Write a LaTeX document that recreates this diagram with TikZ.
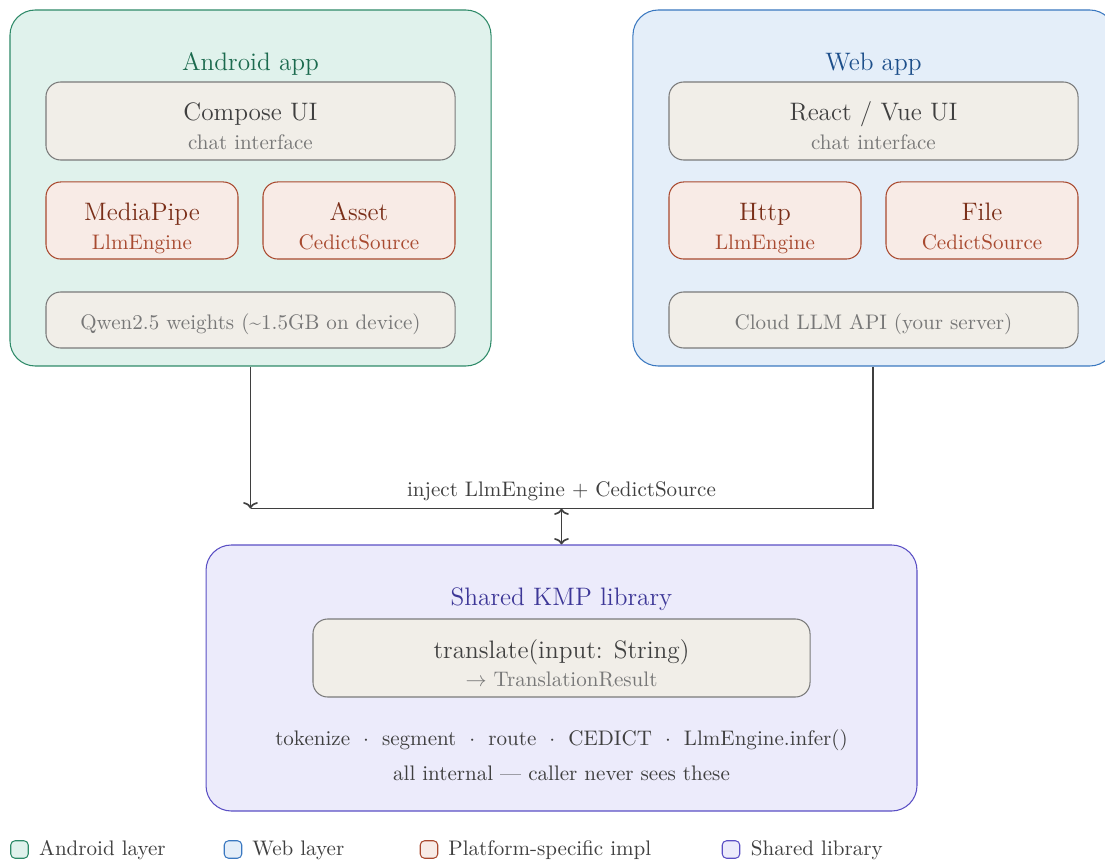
\documentclass[tikz,border=0pt]{standalone}
\usepackage{tikz}
\usetikzlibrary{calc,arrows.meta}

\definecolor{androidfill}{HTML}{E0F2EC}
\definecolor{androidline}{HTML}{2E8A68}
\definecolor{androidtext}{HTML}{1B6A4E}
\definecolor{webfill}{HTML}{E4EEF9}
\definecolor{webline}{HTML}{3A78C0}
\definecolor{webtext}{HTML}{1C4E8A}
\definecolor{implfill}{HTML}{F8EBE6}
\definecolor{implline}{HTML}{A9492E}
\definecolor{impltext}{HTML}{7A2E18}
\definecolor{implsub}{HTML}{A84A30}
\definecolor{sharedfill}{HTML}{ECEBFB}
\definecolor{sharedline}{HTML}{5A4FC4}
\definecolor{sharedtext}{HTML}{3D3797}
\definecolor{plainfill}{HTML}{F1EEE8}
\definecolor{plainline}{HTML}{7A7A7A}
\definecolor{maintext}{HTML}{3F3F3F}
\definecolor{subtext}{HTML}{777777}

\tikzset{
  layer/.style={draw, rounded corners=12pt, line width=0.5pt, inner sep=0pt},
  card/.style={draw=plainline, fill=plainfill, rounded corners=7pt, line width=0.5pt, inner sep=0pt},
  impl/.style={draw=implline, fill=implfill, rounded corners=7pt, line width=0.5pt, inner sep=0pt},
  heading/.style={anchor=base, font=\large},
  lbl/.style={anchor=base, text=maintext},
  sublbl/.style={anchor=base, text=subtext},
  swatch/.style={draw, rounded corners=2pt, line width=0.5pt, minimum width=8.3pt, minimum height=8.3pt, inner sep=0pt},
  key/.style={anchor=base west, inner sep=0pt, text=maintext},
  wire/.style={draw=maintext, line width=0.8pt, >={To[length=3pt, width=7pt]}}
}
\newcommand{\stepdot}{\hspace{6.2pt}$\cdot$\hspace{6.2pt}}

\begin{document}
\begin{tikzpicture}[x=0.475pt, y=-0.475pt]
\useasboundingbox (0,0) rectangle (1105,864);

% android side
\node [layer, draw=androidline, fill=androidfill, minimum width=228.5pt, minimum height=169.1pt] (android) at (250.5,188) {};
\node [heading, text=androidtext] (androidtitle) at (250.5,70.7) {Android app};
\node [card, minimum width=194.3pt, minimum height=37.05pt] (compose) at (250.5,121) {};
\node [lbl, font=\large] (composename) at (250.5,120.7) {Compose UI};
\node [sublbl] (composesub) at (250.5,150) {chat interface};
\node [impl, minimum width=91.2pt, minimum height=36.6pt] (mediapipe) at (142,220.5) {};
\node [heading, text=impltext] (mediapipename) at (142,220.7) {MediaPipe};
\node [anchor=base, text=implsub] (mediapipesub) at (142,249.3) {LlmEngine};
\node [impl, minimum width=91.2pt, minimum height=36.6pt] (asset) at (359,220.5) {};
\node [heading, text=impltext] (assetname) at (359,220.7) {Asset};
\node [anchor=base, text=implsub] (assetsub) at (359,249.3) {CedictSource};
\node [card, minimum width=194.3pt, minimum height=26.6pt] (qwen) at (250.5,320) {};
\node [sublbl] (qwenname) at (250.5,329.3) {Qwen2.5 weights (\textasciitilde1.5GB on device)};

% web side
\node [layer, draw=webline, fill=webfill, minimum width=229pt, minimum height=169.1pt] (web) at (874,188) {};
\node [heading, text=webtext] (webtitle) at (873.5,70.7) {Web app};
\node [card, minimum width=194.3pt, minimum height=37.05pt] (react) at (873.5,121) {};
\node [lbl, font=\large] (reactname) at (873.5,120.7) {React / Vue UI};
\node [sublbl] (reactsub) at (873.5,150) {chat interface};
\node [impl, minimum width=91.2pt, minimum height=36.6pt] (http) at (765,220.5) {};
\node [heading, text=impltext] (httpname) at (765,220.7) {Http};
\node [anchor=base, text=implsub] (httpsub) at (765,249.3) {LlmEngine};
\node [impl, minimum width=91.2pt, minimum height=36.6pt] (file) at (982,220.5) {};
\node [heading, text=impltext] (filename) at (982,220.7) {File};
\node [anchor=base, text=implsub] (filesub) at (982,249.3) {CedictSource};
\node [card, minimum width=194.3pt, minimum height=26.6pt] (cloud) at (873.5,320) {};
\node [sublbl] (cloudname) at (873.5,329.3) {Cloud LLM API (your server)};

% shared library
\node [layer, draw=sharedline, fill=sharedfill, minimum width=337.7pt, minimum height=126.35pt] (shared) at (561.5,678) {};
\node [heading, text=sharedtext] (sharedtitle) at (561.5,605) {Shared KMP library};
\node [card, minimum width=236.1pt, minimum height=37.05pt] (translate) at (561.5,658) {};
\node [lbl, font=\large] (translatename) at (561.5,658) {translate(input: String)};
\node [sublbl] (translatesub) at (561.5,686.7) {$\rightarrow$ TranslationResult};
\node [lbl] (steps) at (561.5,745) {tokenize\stepdot segment\stepdot route\stepdot CEDICT\stepdot LlmEngine.infer()};
\node [lbl] (internal) at (561.5,780.7) {all internal --- caller never sees these};

% injection wiring
\coordinate (bus) at (561.5,508.5);
\coordinate (busleft) at (android.south |- bus);
\draw [wire, ->] (android.south) -- (busleft);
\draw [wire] (web.south -| 873,0) |- (busleft);
\draw [wire, <->] (bus) -- (shared.north);
\node [above, text=maintext] (injectlbl) at (bus) {inject LlmEngine + CedictSource};

% legend
\node [swatch, draw=androidline, fill=androidfill] (keyandroid) at (19.5,849.5) {};
\node [key] (keyandroidtxt) at (38.8,855.7) {Android layer};
\node [swatch, draw=webline, fill=webfill] (keyweb) at (233,849.5) {};
\node [key] (keywebtxt) at (252,855.7) {Web layer};
\node [swatch, draw=implline, fill=implfill] (keyimpl) at (429,849.5) {};
\node [key] (keyimpltxt) at (448,855.7) {Platform-specific impl};
\node [swatch, draw=sharedline, fill=sharedfill] (keyshared) at (731,849.5) {};
\node [key] (keysharedtxt) at (750.5,855.7) {Shared library};
\end{tikzpicture}
\end{document}
